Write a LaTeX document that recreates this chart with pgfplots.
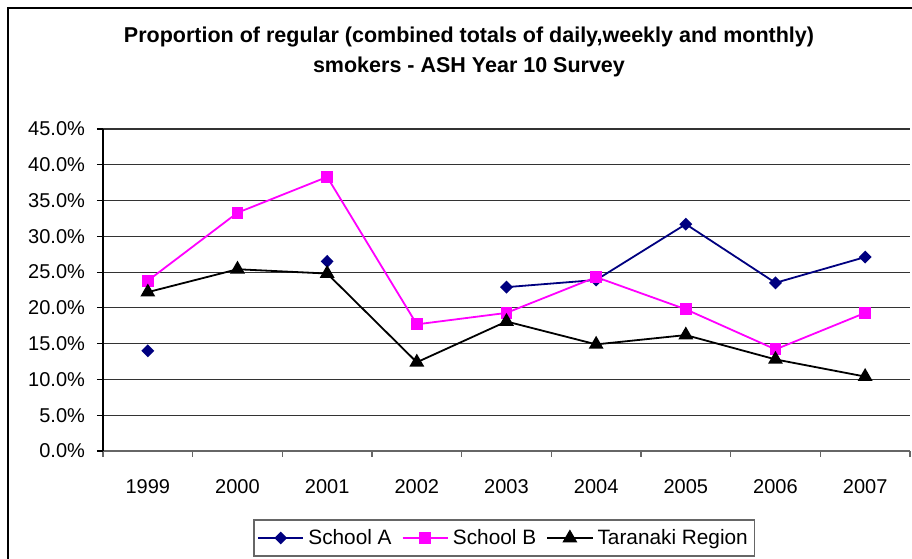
\documentclass[border=0pt]{standalone}
\usepackage{pgfplots}
\pgfplotsset{compat=1.18}
\usepackage{fontspec}
\setmainfont{Liberation Sans}
\definecolor{navyA}{HTML}{000080}
\definecolor{magB}{HTML}{FF00FF}
\begin{document}
\begin{tikzpicture}
\useasboundingbox (0,0) rectangle (456pt,279pt);
\clip (0,0) rectangle (456pt,279pt);
\fill[white] (0,0) rectangle (456pt,279pt);
\draw[black, line width=1pt] (4pt,275pt) rectangle (470pt,-20pt);
\node[anchor=base, font=\fontsize{10.75}{13}\selectfont\bfseries] at (234.5pt,257.6pt) {Proportion of regular (combined totals of daily,weekly and monthly)};
\node[anchor=base, font=\fontsize{10.75}{13}\selectfont\bfseries] at (234.5pt,242.8pt) {smokers - ASH Year 10 Survey};
\begin{axis}[
  at={(51.5pt,53.5pt)}, anchor=south west,
  scale only axis, width=403.5pt, height=161pt,
  xmin=-0.5, xmax=8.5, ymin=0, ymax=45,
  axis lines*=left,
  axis line style={line width=0.6pt},
  x axis line style={black!60},
  y axis line style={black},
  xtick={0,...,8},
  xticklabels={1999,2000,2001,2002,2003,2004,2005,2006,2007},
  minor xtick={-0.5,0.5,...,8.5},
  ytick={0,5,...,45},
  yticklabels={0.0\%,5.0\%,10.0\%,15.0\%,20.0\%,25.0\%,30.0\%,35.0\%,40.0\%,45.0\%},
  tick align=outside,
  major tick length=3pt,
  minor tick length=3pt,
  x tick style={draw=none},
  minor x tick style={draw=black!60, line width=0.6pt},
  y tick style={black, line width=0.6pt},
  ymajorgrids,
  major grid style={black!80, line width=0.55pt},
  tick label style={font=\fontsize{10}{12}\selectfont},
  xticklabel style={yshift=-7.7pt},
  yticklabel style={xshift=-2.5pt},
  unbounded coords=jump,
  clip=false,
  legend columns=3,
  legend style={at={(0.4975,-0.2702)}, anchor=center, draw=black!60, line width=0.6pt,
    font=\fontsize{10.4}{12}\selectfont, inner xsep=1.5pt, inner ysep=2.5pt,
    /tikz/every even column/.append style={column sep=3pt},
    /tikz/every odd column/.append style={column sep=0pt}},
  legend image code/.code={\draw[mark repeat=2,mark phase=2] plot coordinates {(0cm,0cm)(0.4cm,0cm)(0.8cm,0cm)};},
]
\addplot[navyA, line width=0.9pt, mark=diamond*, mark size=2.6pt, mark options={xscale=1.33, solid, fill=navyA}]
  coordinates {(0,14.0) (1,nan) (2,26.5) (3,nan) (4,22.9) (5,23.9) (6,31.7) (7,23.5) (8,27.1)};
\addlegendentry{School A}
\addplot[magB, line width=0.9pt, mark=square*, mark size=2.5pt, mark options={solid, fill=magB}]
  coordinates {(0,23.8) (1,33.3) (2,38.3) (3,17.7) (4,19.3) (5,24.3) (6,19.8) (7,14.2) (8,19.3)};
\addlegendentry{School B}
\addplot[black, line width=0.9pt, mark=triangle*, mark size=3.4pt, mark options={solid, fill=black}]
  coordinates {(0,22.2) (1,25.4) (2,24.8) (3,12.4) (4,18.1) (5,14.9) (6,16.2) (7,12.8) (8,10.4)};
\addlegendentry{Taranaki Region}
\end{axis}
\end{tikzpicture}
\end{document}
